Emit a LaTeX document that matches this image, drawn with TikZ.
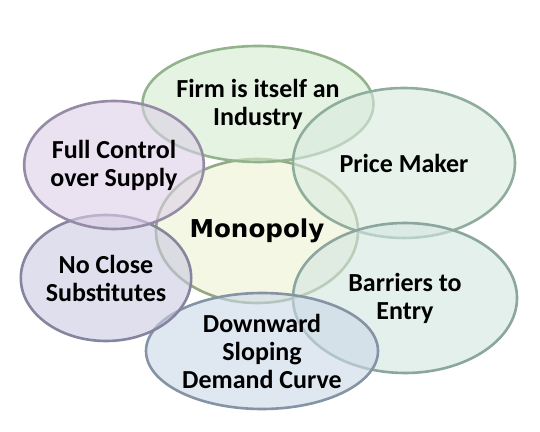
\documentclass[tikz,border=0pt]{standalone}
\usepackage{fontspec}
\setmainfont{Carlito}
\newfontfamily\hubfont{DejaVu Sans}
\usepackage{tikz}
\usetikzlibrary{shapes.geometric}

\definecolor{monofill}{HTML}{EDF3D3}
\definecolor{monoline}{HTML}{93A882}
\definecolor{greenfill}{HTML}{D4EBCF}
\definecolor{greenline}{HTML}{93B38D}
\definecolor{pricefill}{HTML}{D8EADF}
\definecolor{priceline}{HTML}{8FAD9D}
\definecolor{entryfill}{HTML}{D3E6E0}
\definecolor{entryline}{HTML}{8BA69E}
\definecolor{bluefill}{HTML}{CAD8E6}
\definecolor{blueline}{HTML}{8594A4}
\definecolor{lilacfill}{HTML}{CACAE2}
\definecolor{lilacline}{HTML}{85859F}
\definecolor{pinkfill}{HTML}{DCD0E8}
\definecolor{pinkline}{HTML}{958BA5}

\begin{document}
\begin{tikzpicture}[x=0.5pt, y=-0.5pt,
    bubble/.style={ellipse, line width=1.3pt, fill opacity=0.6, text opacity=1,
        inner sep=0pt, align=center,
        font=\bfseries\fontsize{13}{14}\selectfont}]
    \fill[white] (0,0) rectangle (540,432);
    \useasboundingbox (0,0) rectangle (540,432);

    % centre
    \node[bubble, fill=monofill, draw=monoline, minimum width=101pt, minimum height=72pt,
        font=\hubfont\bfseries\fontsize{12.3}{14}\selectfont] (mono) at (257,231) {Monopoly};

    % features round it
    \node[bubble, fill=greenfill, draw=greenline, minimum width=108pt, minimum height=58pt] (firm) at (258,104) {Firm is itself an\\Industry};
    \node[bubble, fill=pricefill, draw=priceline, minimum width=111pt, minimum height=75pt] (price) at (404,163) {Price Maker};
    \node[bubble, fill=entryfill, draw=entryline, minimum width=112pt, minimum height=75pt] (entry) at (405,298) {Barriers to\\Entry};
    \node[bubble, fill=bluefill, draw=blueline, minimum width=116pt, minimum height=58pt] (demand) at (262,351) {Downward\\Sloping\\Demand Curve};
    \node[bubble, fill=lilacfill, draw=lilacline, minimum width=83pt, minimum height=63pt] (subst) at (106,278) {No Close\\Substitutes};
    \node[bubble, fill=pinkfill, draw=pinkline, minimum width=88pt, minimum height=64pt] (control) at (114,165) {Full Control\\over Supply};
\end{tikzpicture}
\end{document}
